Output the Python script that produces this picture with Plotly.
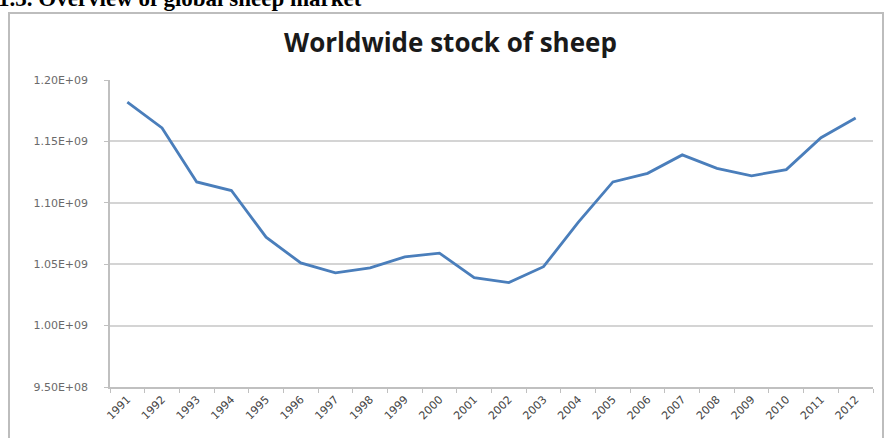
import plotly.graph_objects as go

years = [str(y) for y in range(1991, 2013)]
sheep_stock = [1.182e9, 1.161e9, 1.117e9, 1.110e9, 1.072e9, 1.051e9, 1.043e9, 1.047e9,
               1.056e9, 1.059e9, 1.039e9, 1.035e9, 1.048e9, 1.084e9, 1.117e9, 1.124e9,
               1.139e9, 1.128e9, 1.122e9, 1.127e9, 1.153e9, 1.169e9]
y_ticks = [0.95e9, 1.00e9, 1.05e9, 1.10e9, 1.15e9, 1.20e9]
y_tick_labels = ["9.50E+08", "1.00E+09", "1.05E+09", "1.10E+09", "1.15E+09", "1.20E+09"]

W, H = 885, 438
L, R, T, B = 110, 12, 80, 51
pw, ph = W - L - R, H - T - B

def px(x):
    return (x - L) / pw

def py(y):
    return (H - B - y) / ph

fig = go.Figure()
fig.add_trace(go.Scatter(
    x=years, y=sheep_stock, mode="lines",
    line=dict(color="#4a7ebb", width=2.8),
    showlegend=False,
))

fig.update_layout(
    width=W, height=H,
    margin=dict(l=L, r=R, t=T, b=B),
    paper_bgcolor="white", plot_bgcolor="white",
    xaxis=dict(
        type="category", range=[-0.5, len(years) - 0.5],
        showgrid=False, showline=True, linecolor="#c0c0c0", linewidth=1.5,
        ticks="outside", ticklen=4, tickcolor="#c0c0c0", tickson="boundaries",
        tickangle=-45, tickfont=dict(family="DejaVu Sans", size=11, color="#444444"),
    ),
    yaxis=dict(
        range=[0.95e9, 1.20e9], tickvals=y_ticks, ticktext=y_tick_labels,
        showgrid=True, gridcolor="#d4d4d4", gridwidth=1.5,
        showline=True, linecolor="#c0c0c0", linewidth=1.5,
        ticks="outside", ticklen=4, tickcolor="#c0c0c0",
        ticklabelstandoff=14,
        tickfont=dict(family="DejaVu Sans", size=11, color="#6a6a6a"),
        zeroline=False,
    ),
)

# chart frame
fig.add_shape(type="rect", xref="paper", yref="paper",
              x0=px(9), x1=px(883), y0=py(445), y1=py(13),
              line=dict(color="#bdbdbd", width=2), fillcolor="rgba(0,0,0,0)", layer="below")

# chart title
fig.add_annotation(text="<b>Worldwide stock of sheep</b>", xref="paper", yref="paper",
                   x=px(450), y=py(42), xanchor="center", yanchor="middle", showarrow=False,
                   font=dict(family="Open Sans", size=26, color="#1a1a1a"))

# cut-off document heading
fig.add_annotation(text="<b>1.3. Overview of global sheep market</b>", xref="paper", yref="paper",
                   x=px(-4), y=py(13), xanchor="left", yanchor="bottom", showarrow=False,
                   font=dict(family="Liberation Serif", size=23, color="black"))

fig.write_html("out.html")
